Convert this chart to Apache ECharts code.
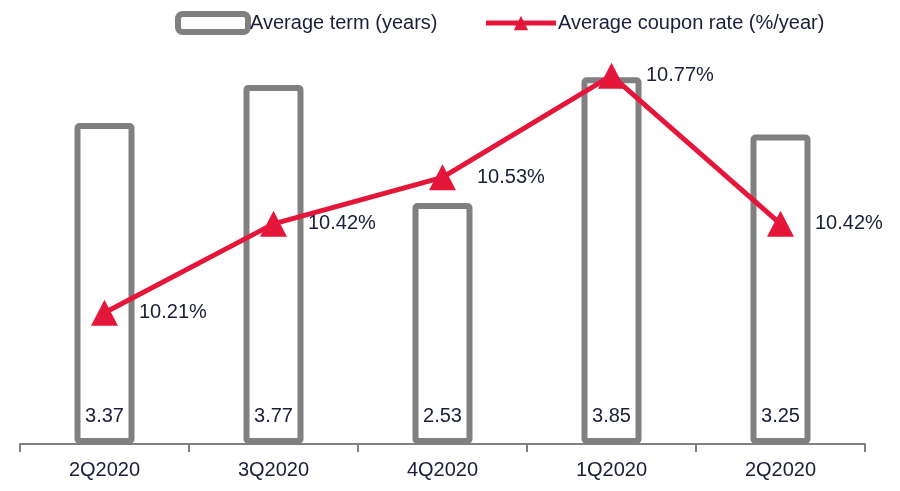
<!DOCTYPE html>
<html>
<head>
<meta charset="utf-8">
<script src="https://cdn.jsdelivr.net/npm/echarts@6/dist/echarts.min.js"></script>
<style>
  html, body { margin: 0; padding: 0; background: #fff; }
  #chart { width: 900px; height: 491px; }
</style>
</head>
<body>
<div id="chart"></div>
<script>
  // data
  const quarters = ['2Q2020', '3Q2020', '4Q2020', '1Q2020', '2Q2020'];
  const avgTerm = [3.37, 3.77, 2.53, 3.85, 3.25];
  const avgCoupon = [10.21, 10.42, 10.53, 10.77, 10.42];

  const FONT = '"Liberation Sans", Arial, sans-serif';
  const TEXT = '#1b1e38';
  const GREY = '#808080';
  const RED = '#e4173a';

  var myChart = echarts.init(document.getElementById('chart'));
  var option = {
    animation: false,
    textStyle: { fontFamily: FONT },
    legend: {
      top: 6,
      left: 170,
      itemGap: 46,
      itemWidth: 70,
      itemHeight: 18,
      textStyle: { fontFamily: FONT, fontSize: 20, color: TEXT, padding: [0, 0, 0, -3] },
      data: [
        { name: 'Average term (years)', icon: 'roundRect',
          itemStyle: { color: '#fff', borderColor: GREY, borderWidth: 6 } },
        { name: 'Average coupon rate (%/year)', lineStyle: { width: 5 } }
      ]
    },
    grid: { left: 20, right: 35, top: 63, bottom: 47 },
    xAxis: {
      type: 'category',
      data: quarters,
      axisLine: { lineStyle: { color: GREY, width: 2 } },
      axisTick: { show: true, length: 8, lineStyle: { color: GREY, width: 2 } },
      axisLabel: { fontFamily: FONT, fontSize: 20, color: TEXT, margin: 16 }
    },
    yAxis: [
      { type: 'value', min: 0, max: 4, show: false, splitLine: { show: false } },
      { type: 'value', min: 9.9, max: 10.8, show: false, splitLine: { show: false } }
    ],
    series: [
      {
        name: 'Average term (years)',
        type: 'bar',
        data: avgTerm,
        barWidth: 60,
        itemStyle: { color: '#fff', borderColor: GREY, borderWidth: 6, borderRadius: 2 },
        label: {
          show: true,
          position: 'insideBottom',
          distance: 18,
          fontFamily: FONT,
          fontSize: 20,
          color: TEXT,
          formatter: p => p.value.toFixed(2)
        }
      },
      {
        name: 'Average coupon rate (%/year)',
        type: 'line',
        yAxisIndex: 1,
        data: avgCoupon,
        z: 5,
        symbol: 'triangle',
        symbolSize: [27, 26],
        lineStyle: { color: RED, width: 5 },
        itemStyle: { color: RED },
        label: {
          show: true,
          position: 'right',
          distance: 21,
          fontFamily: FONT,
          fontSize: 20,
          color: TEXT,
          formatter: p => p.value.toFixed(2) + '%'
        }
      }
    ]
  };
  myChart.setOption(option);
</script>
</body>
</html>
